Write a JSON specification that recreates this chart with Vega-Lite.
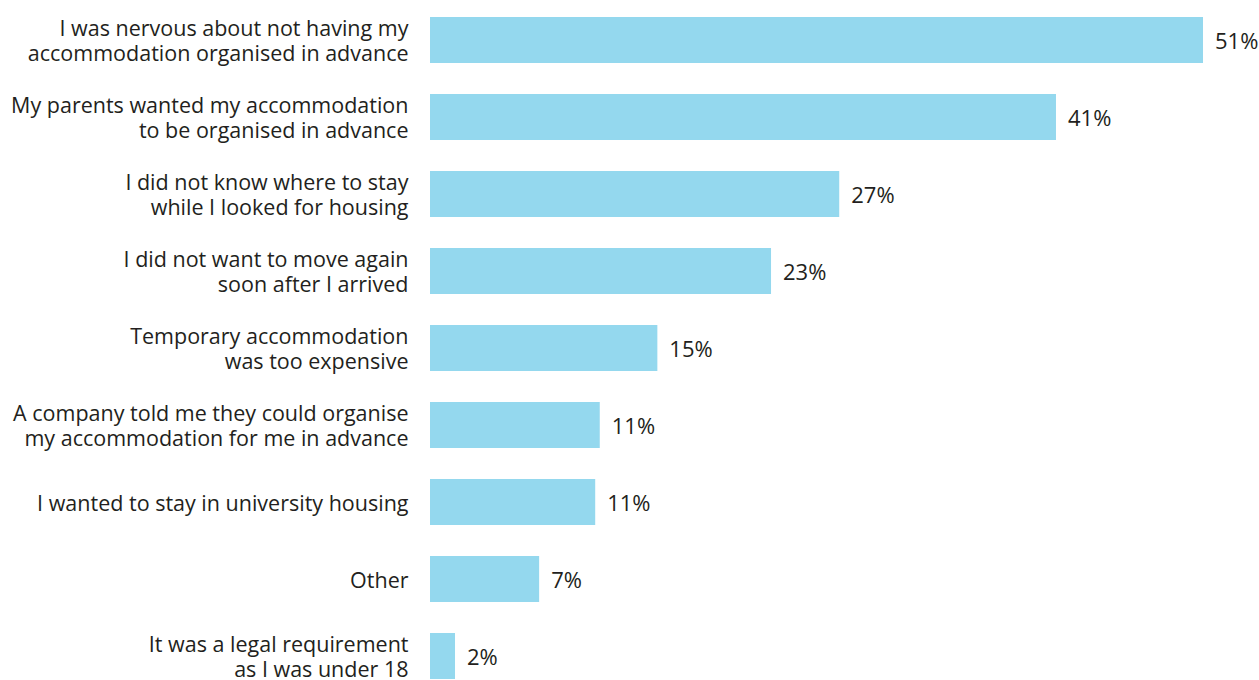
{
  "$schema": "https://vega.github.io/schema/vega-lite/v6.json",
  "autosize": "none",
  "width": 773,
  "height": 693,
  "padding": {"left": 430, "top": 1.5, "right": 56, "bottom": 0},
  "background": "white",
  "config": {"view": {"stroke": null}, "font": "Open Sans"},
  "data": {
    "values": [
      {"reason": "I was nervous about not having my|accommodation organised in advance", "value": 51, "label": "51%"},
      {"reason": "My parents wanted my accommodation|to be organised in advance", "value": 41.3, "label": "41%"},
      {"reason": "I did not know where to stay|while I looked for housing", "value": 27, "label": "27%"},
      {"reason": "I did not want to move again|soon after I arrived", "value": 22.5, "label": "23%"},
      {"reason": "Temporary accommodation|was too expensive", "value": 15, "label": "15%"},
      {"reason": "A company told me they could organise|my accommodation for me in advance", "value": 11.2, "label": "11%"},
      {"reason": "I wanted to stay in university housing", "value": 10.9, "label": "11%"},
      {"reason": "Other", "value": 7.2, "label": "7%"},
      {"reason": "It was a legal requirement|as I was under 18", "value": 1.65, "label": "2%"}
    ]
  },
  "encoding": {
    "y": {
      "field": "reason",
      "type": "nominal",
      "sort": null,
      "scale": {"paddingInner": 0.4, "paddingOuter": 0.2},
      "axis": {
        "title": null,
        "domain": false,
        "ticks": false,
        "labelPadding": 22,
        "labelFontSize": 21.5,
        "labelColor": "#231F20",
        "labelLineHeight": 25,
        "labelBaseline": "middle",
        "labelLimit": 500,
        "labelOffset": {"condition": {"test": "indexof(datum.value, '|') >= 0", "value": -10.5}, "value": 2.5},
        "labelExpr": "split(datum.label, '|')"
      }
    },
    "x": {
      "field": "value",
      "type": "quantitative",
      "scale": {"domain": [0, 51], "nice": false},
      "axis": null
    }
  },
  "layer": [
    {"mark": {"type": "bar", "color": "#94D8EE"}},
    {
      "mark": {"type": "text", "align": "left", "dx": 12, "dy": 1.5, "fontSize": 22, "color": "#231F20", "baseline": "middle"},
      "encoding": {"text": {"field": "label"}}
    }
  ]
}
